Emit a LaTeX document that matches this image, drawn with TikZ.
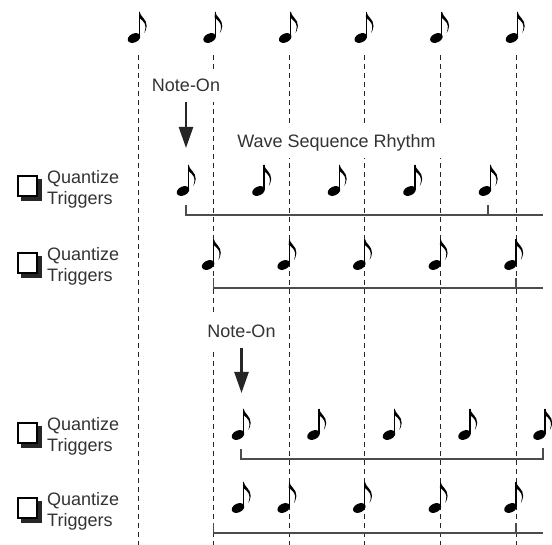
\documentclass[tikz,border=0pt]{standalone}
\usepackage{fontspec}
\setmainfont{Liberation Sans}
\usetikzlibrary{arrows.meta,positioning}

\tikzset{
  enote/.pic={
    \fill[rotate around={25:(-5.5,0)}] (-5.5,0) ellipse [x radius=6.6, y radius=4.4];
    \draw[line width=1.1pt] (0,-1) -- (0,-26);
    \fill (0,-26.5) .. controls (0.8,-21) and (7.4,-19) .. (7.2,-12) .. controls (7,-9) and (5.8,-6.5) .. (4.8,-5)
      .. controls (5.6,-7.5) and (6.1,-9.5) .. (5.9,-12) .. controls (5.5,-16) and (1.5,-18.5) .. (-0.5,-20.5) -- cycle;
  }
}

\begin{document}
\begin{tikzpicture}[x=1pt, y=-1pt,
    grid/.style={dash pattern=on 5pt off 4pt, line width=0.8pt, draw=black!85},
    bracket/.style={line width=1.3pt, draw=black!70},
    txt/.style={font=\fontsize{18}{20.5}\selectfont, text=black!80},
    tag/.style={txt, fill=white, inner xsep=10pt, inner ysep=10pt, text height=13pt, text depth=0pt},
    qtext/.style={txt, align=left, anchor=north west, inner sep=0pt},
    arrow/.style={-{Triangle[width=14pt, length=21pt]}, line width=2.5pt, draw=black!85}
]

% --- Frame ---
\useasboundingbox (0,0) rectangle (552,545);

% --- Beat grid ---
\foreach \x in {138,213.6,289.2,364.8,440.4,516}
  \draw[grid] (\x,55) -- (\x,545);

% --- Reference beats ---
\foreach \x in {139.5,215.1,290.7,366.3,441.9,517.5}
  \pic at (\x,38) {enote};

% --- Texts and Note-On arrows ---
\node[tag] (non1) at (186,85.5) {Note-On};
\node[tag] (wsr) at (336.5,141.5) {Wave Sequence Rhythm};
\node[tag] (non2) at (241.5,331.5) {Note-On};
\coordinate (tip1) at (186,148);
\coordinate (tip2) at (241.5,393);
\draw[arrow] (non1) -- (tip1);
\draw[arrow] (non2) -- (tip2);

% --- Checkboxes ---
\foreach \y/\n in {175/1,252/2,422/3,497/4} {
  \fill[black!85] (21,\y+4) rectangle (42,\y+26);
  \draw[line width=2pt, fill=white] (18,\y+1) rectangle (37,\y+21);
  \node[qtext] (qt\n) at (47,\y-4.5) {Quantize\\Triggers};
}

% --- Row 1 ---
\foreach \x in {188.5,264,339.5,415,490.5} \pic at (\x,191) {enote};
\draw[bracket] (186,205) -- (186,215) -- (543,215);
\draw[bracket] (488,205) -- (488,215);

% --- Row 2 ---
\foreach \x in {213.6,289.2,364.8,440.4,516} \pic at (\x,265) {enote};
\draw[bracket] (213.6,278) -- (213.6,288) -- (543,288);
\draw[bracket] (516,278) -- (516,288);

% --- Row 3 ---
\foreach \x in {243.5,319,394.5,470,545} \pic at (\x,435) {enote};
\draw[bracket] (241,449) -- (241,459) -- (543,459) -- (543,448);

% --- Row 4 ---
\foreach \x in {243.5,289.2,364.8,440.4,516} \pic at (\x,508) {enote};
\draw[bracket] (213.6,523) -- (213.6,533) -- (543,533);
\draw[bracket] (516,523) -- (516,533);

\end{tikzpicture}
\end{document}
